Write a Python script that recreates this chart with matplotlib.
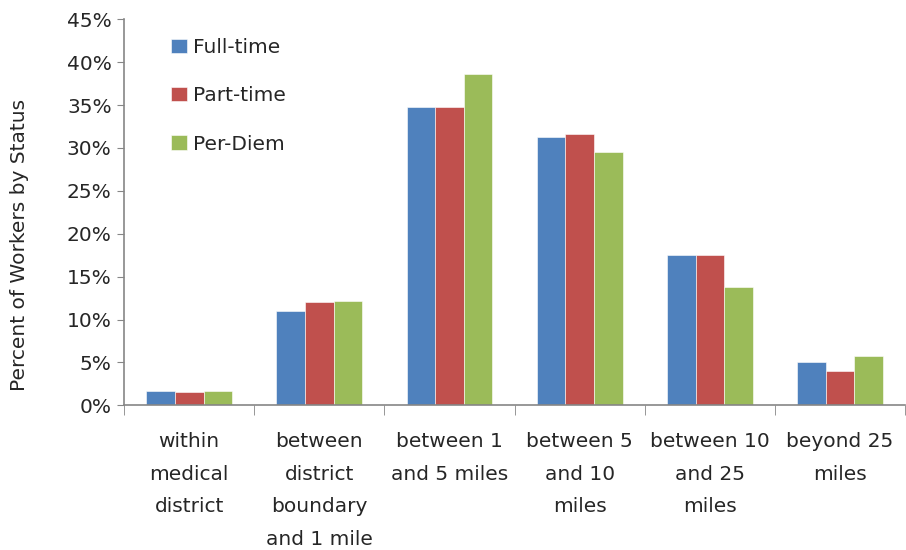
import numpy as np
import matplotlib
matplotlib.use("Agg")
import matplotlib.pyplot as plt
from matplotlib.ticker import FuncFormatter, FixedLocator

plt.rcParams['font.family'] = ['DejaVu Sans']

# Datos (porcentaje de trabajadores)
categorias = ["within\nmedical\ndistrict",
              "between\ndistrict\nboundary\nand 1 mile",
              "between 1\nand 5 miles",
              "between 5\nand 10\nmiles",
              "between 10\nand 25\nmiles",
              "beyond 25\nmiles"]
full_time = [1.7, 11.0, 34.8, 31.3, 17.5, 5.1]
part_time = [1.5, 12.0, 34.8, 31.6, 17.5, 4.0]
per_diem = [1.7, 12.2, 38.6, 29.5, 13.8, 5.8]
series = ["Full-time", "Part-time", "Per-Diem"]
colores = ["#4F81BD", "#C0504D", "#9BBB59"]

fig = plt.figure(figsize=(9.06, 5.5), dpi=100)
ax = fig.add_axes([0.137, 0.263, 0.862, 0.702])

x = np.arange(len(categorias))
ancho = 0.22
for k, (vals, nombre, c) in enumerate(zip([full_time, part_time, per_diem], series, colores)):
    ax.bar(x + (k - 1) * ancho, np.array(vals) / 100, width=ancho, color=c,
           label=nombre, edgecolor="white", linewidth=0.4)

ax.set_xlim(-0.5, len(categorias) - 0.5)
ax.set_ylim(0, 0.45)
ax.set_yticks(np.arange(0, 0.451, 0.05))
ax.yaxis.set_major_formatter(FuncFormatter(lambda v, p: f"{v*100:.0f}%"))

fs = 14.5
ax.set_xticks(x)
ax.set_xticklabels(categorias, fontsize=fs, linespacing=1.92, va="top")
ax.xaxis.set_minor_locator(FixedLocator(np.arange(-0.5, len(categorias), 1.0)))
ax.tick_params(axis="x", which="major", length=0, pad=19, colors="#262626")
ax.tick_params(axis="x", which="minor", length=7, color="#868686", direction="out")
ax.tick_params(axis="y", length=5, color="#868686", labelsize=fs,
               labelcolor="#262626", pad=4)

for s in ["top", "right"]:
    ax.spines[s].set_visible(False)
for s in ["left", "bottom"]:
    ax.spines[s].set_color("#868686")
    ax.spines[s].set_linewidth(1.2)

ax.set_ylabel("Percent of Workers by Status", fontsize=fs, color="#262626")
ax.yaxis.set_label_coords(-0.122, 0.415)

ax.legend(loc="upper left", bbox_to_anchor=(0.037, 0.998), frameon=False,
          fontsize=fs, labelspacing=1.45, handlelength=0.8, handleheight=0.7,
          handletextpad=0.3, labelcolor="#262626")

fig.savefig("out.png", dpi=100)
